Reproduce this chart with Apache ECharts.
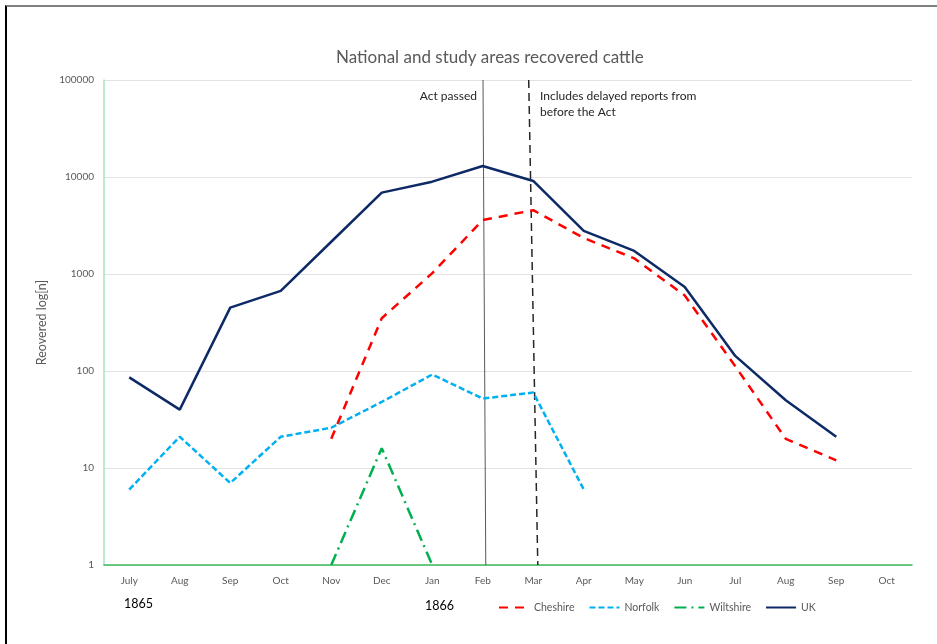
<!DOCTYPE html>
<html>
<head>
<meta charset="utf-8">
<script src="https://cdn.jsdelivr.net/npm/echarts@6/dist/echarts.min.js"></script>
<style>
html,body{margin:0;padding:0;background:#fff;}
#frame{position:absolute;left:5px;top:5px;width:932px;height:639px;border-top:2px solid #808080;border-left:2px solid #000;box-sizing:border-box;}
#chart{position:absolute;left:0;top:0;width:937px;height:644px;}
</style>
</head>
<body>
<div id="chart"></div>
<div id="frame"></div>
<script>
const months = ['July','Aug','Sep','Oct','Nov','Dec','Jan','Feb','Mar','Apr','May','Jun','Jul','Aug','Sep','Oct'];
const cheshire = [null,null,null,null,20,350,1020,3600,4550,2350,1450,600,112,20,12,null];
const norfolk  = [6,21,7,21,26,48,92,52,60,6,null,null,null,null,null,null];
const wiltshire= [null,null,null,null,1,16,1,null,null,null,null,null,null,null,null,null];
const uk       = [86,40,450,670,2150,6900,8950,13000,9100,2780,1730,735,143,50,21,null];
const yTicks = [1,10,100,1000,10000,100000];
// reference lines on a hidden 0..16 value axis (category centre i -> i+0.5)
const actLine = [[7.505,100000],[7.56,1]];
const delayedLine = [[8.41,100000],[8.59,1]];
const font = 'Lato, "Open Sans", sans-serif';

const chart = echarts.init(document.getElementById('chart'));
chart.setOption({
  backgroundColor:'#fff',
  animation:false,
  textStyle:{fontFamily:font},
  title:{text:'National and study areas recovered cattle',left:331,top:44,
    textStyle:{fontSize:17,fontWeight:'normal',color:'#595959',fontFamily:font}},
  grid:{left:104,right:25,top:80,bottom:79},
  legend:{left:493,top:597,itemWidth:30,itemHeight:10,itemGap:14,
    itemStyle:{opacity:0},
    textStyle:{fontSize:10.5,color:'#595959',fontFamily:font},
    data:['Cheshire','Norfolk','Wiltshire','UK']},
  xAxis:[{type:'category',data:months,boundaryGap:true,
    axisLine:{lineStyle:{color:'#3cb95d',width:1.5}},
    axisTick:{show:false},
    axisLabel:{fontSize:10,color:'#595959',margin:11,interval:0}},
    {type:'value',min:0,max:16,show:false}],
  yAxis:{type:'log',logBase:10,min:1,max:100000,
    name:'Reovered log[n]',nameLocation:'middle',nameGap:46,nameRotate:90,
    nameTextStyle:{fontSize:12.5,color:'#595959'},
    axisLine:{show:true,lineStyle:{color:'#a8e0bf',width:1.5}},
    axisTick:{show:false},
    axisLabel:{fontSize:10,color:'#595959',margin:10,formatter:v=>String(Math.round(v))},
    splitLine:{lineStyle:{color:'#e3e3e3'}}},
  graphic:[
    {type:'text',right:937-477,top:90,style:{text:'Act passed',fontSize:12,fill:'#262626',fontFamily:font}},
    {type:'text',left:540,top:88,style:{text:'Includes delayed reports from\nbefore the Act',fontSize:12,lineHeight:16,fill:'#262626',fontFamily:font}},
    {type:'text',left:124,top:597,style:{text:'1865',fontSize:12.5,fill:'#000',fontFamily:font}},
    {type:'text',left:425,top:599,style:{text:'1866',fontSize:12.5,fill:'#000',fontFamily:font}}
  ],
  series:[
    {name:'act',type:'line',xAxisIndex:1,data:actLine,symbol:'none',silent:true,
      lineStyle:{color:'#595959',width:1},z:1},
    {name:'delayed',type:'line',xAxisIndex:1,data:delayedLine,symbol:'none',silent:true,
      lineStyle:{color:'#262626',width:1.5,type:[8,5]},z:1},
    {name:'Cheshire',type:'line',data:cheshire,symbol:'none',connectNulls:false,
      lineStyle:{color:'#ff0000',width:2.5,type:[9,7]},itemStyle:{color:'#ff0000'},z:3},
    {name:'Norfolk',type:'line',data:norfolk,symbol:'none',
      lineStyle:{color:'#00b0f0',width:2.5,type:[6,3]},itemStyle:{color:'#00b0f0'},z:3},
    {name:'Wiltshire',type:'line',data:wiltshire,symbol:'none',
      lineStyle:{color:'#00b050',width:2.5,type:[12,5,2,5]},itemStyle:{color:'#00b050'},z:3},
    {name:'UK',type:'line',data:uk,symbol:'none',
      lineStyle:{color:'#0e2a66',width:2.5},itemStyle:{color:'#0e2a66'},z:4}
  ]
});
</script>
</body>
</html>
